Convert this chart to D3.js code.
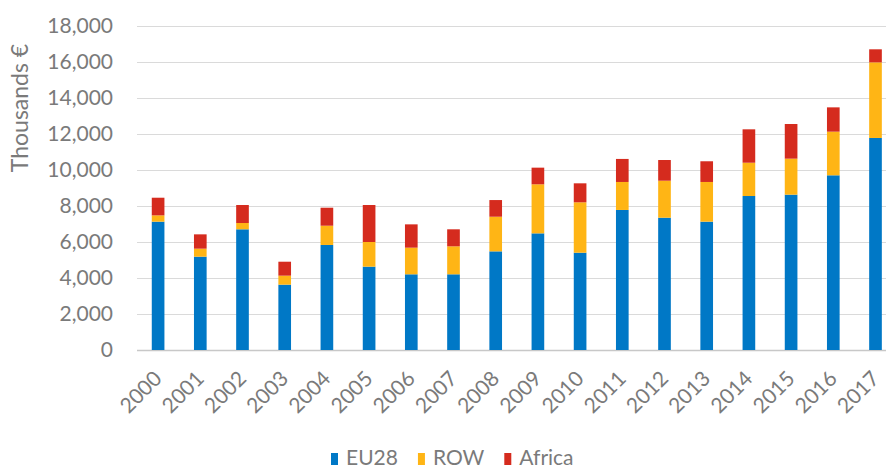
<!DOCTYPE html>
<html>
<head>
<meta charset="utf-8">
<script src="https://cdn.jsdelivr.net/npm/d3@7"></script>
<style>
  body { margin: 0; background: #fff; }
  svg { display: block; font-family: Lato, 'Open Sans', sans-serif; }
</style>
</head>
<body>
<svg class="chart" width="886" height="468"></svg>
<script>
// data (thousands of euro)
const years = ['2000','2001','2002','2003','2004','2005','2006','2007','2008',
               '2009','2010','2011','2012','2013','2014','2015','2016','2017'];
const eu28   = [7130, 5185, 6705, 3630, 5835, 4630, 4205, 4205, 5480,
                6480, 5405, 7780, 7350, 7130, 8555, 8630, 9705, 11780];
const row    = [350, 445, 350, 500, 1070, 1370, 1480, 1555, 1925,
                2725, 2800, 1555, 2055, 2205, 1850, 2000, 2425, 4200];
const africa = [980, 795, 1000, 775, 1000, 2055, 1295, 945, 925,
                925, 1055, 1280, 1150, 1150, 1855, 1925, 1350, 725];
const seriesNames = ['EU28', 'ROW', 'Africa'];
const yTicks = [0, 2000, 4000, 6000, 8000, 10000, 12000, 14000, 16000, 18000];

const colScale = d3.scaleOrdinal()
    .domain(seriesNames)
    .range(['#0078c6', '#ffb515', '#d52b1e']);

const svg = d3.select('svg.chart');
const textCol = '#7a7a7a';
const fontSize = '21px';

const x = d3.scaleBand()
    .domain(years)
    .range([137, 896.6])
    .paddingInner(0.7)
    .paddingOuter(0.35);

const y = d3.scaleLinear()
    .domain([0, 18000])
    .range([350, 26]);

// table for the stack
const table = years.map((yr, i) => ({ year: yr, EU28: eu28[i], ROW: row[i], Africa: africa[i] }));
const stacked = d3.stack().keys(seriesNames)(table);

// gridlines
const yAxis = svg.append('g')
    .attr('class', 'yAxis')
    .attr('transform', 'translate(137,0)')
    .call(d3.axisLeft(y).tickValues(yTicks).tickSize(-760).tickPadding(24)
      .tickFormat(d3.format(',')));
yAxis.select('.domain').remove();
yAxis.selectAll('.tick line')
    .attr('stroke', d => d === 0 ? '#c8c8c8' : '#dadada')
    .attr('stroke-width', d => d === 0 ? 1.5 : 1.2);
yAxis.selectAll('.tick text')
    .attr('fill', textCol)
    .style('font-size', fontSize)
    .style('font-family', 'Lato, sans-serif');

// bars
svg.append('g').attr('class', 'bars')
  .selectAll('g')
  .data(stacked)
  .join('g')
    .attr('fill', d => colScale(d.key))
  .selectAll('rect')
  .data(d => d)
  .join('rect')
    .attr('x', d => x(d.data.year))
    .attr('width', x.bandwidth())
    .attr('y', d => y(d[1]))
    .attr('height', d => y(d[0]) - y(d[1]));

// x labels, rotated
const xAxis = svg.append('g')
    .attr('class', 'xAxis')
    .attr('transform', 'translate(0,350)')
    .call(d3.axisBottom(x).tickSize(0).tickPadding(0));
xAxis.select('.domain').remove();
xAxis.selectAll('.tick text')
    .attr('fill', textCol)
    .style('font-size', fontSize)
    .style('font-family', 'Lato, sans-serif')
    .attr('text-anchor', 'end')
    .attr('dy', 0)
    .attr('transform', 'translate(5,30) rotate(-45)');

// y title
svg.append('text')
    .attr('transform', 'translate(28,108) rotate(-90)')
    .attr('text-anchor', 'middle')
    .attr('fill', textCol)
    .style('font-size', '23px')
    .text('Thousands €');

// legend
const legend = svg.append('g').attr('class', 'legend')
    .attr('transform', 'translate(331,465)');
let lx = 0;
seriesNames.forEach(name => {
  legend.append('rect')
      .attr('x', lx).attr('y', -12)
      .attr('width', 7).attr('height', 12)
      .attr('fill', colScale(name));
  const t = legend.append('text')
      .attr('x', lx + 15).attr('y', 0)
      .attr('fill', textCol)
      .style('font-size', fontSize)
      .text(name);
  lx += 15 + t.node().getComputedTextLength() + 20;
});
</script>
</body>
</html>
